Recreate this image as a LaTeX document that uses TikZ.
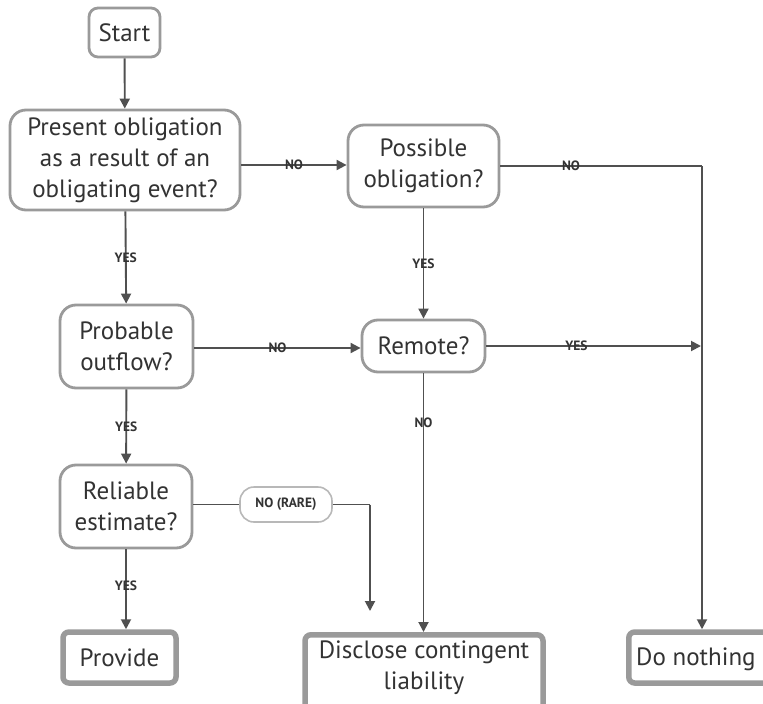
\documentclass[tikz,border=0pt]{standalone}
\usepackage{fontspec}
\setmainfont{PT Sans}
\usetikzlibrary{arrows.meta}
\definecolor{edgegray}{HTML}{505050}
\definecolor{boxgray}{HTML}{9A9A9A}
\definecolor{inkgray}{HTML}{333333}
\tikzset{
  boxfont/.style={font=\fontsize{25}{31}\selectfont},
  question/.style={draw=boxgray, line width=2.8pt, rounded corners=16pt, fill=white,
    text=inkgray, boxfont, align=center, inner sep=0pt},
  outcome/.style={draw=boxgray, line width=5.5pt, rounded corners=6pt, fill=white,
    text=inkgray, boxfont, align=center, inner sep=0pt},
  flow/.style={draw=edgegray, line width=1.9pt, -{Triangle[length=10pt,width=10pt]}},
  plain/.style={draw=edgegray, line width=1.9pt},
  answer/.style={text=inkgray, font=\bfseries\fontsize{13.5}{14}\selectfont, inner sep=0pt},
  rare/.style={draw=boxgray!70, line width=1.6pt, rounded corners=14pt, fill=white,
    text=inkgray, font=\bfseries\fontsize{13.5}{14}\selectfont, minimum width=92pt, minimum height=35pt, inner sep=0pt}
}
\begin{document}
\begin{tikzpicture}[x=1pt, y=-1pt]
\useasboundingbox (0,0) rectangle (763,704);

% questions
\node[question, minimum width=71pt, minimum height=49pt, rounded corners=9pt] (start) at (124.5,32.5) {Start};
\node[question, minimum width=230pt, minimum height=100pt] (present) at (125,160) {Present obligation\\as a result of an\\obligating event?};
\node[question, minimum width=151pt, minimum height=82pt] (possible) at (423.5,166) {Possible\\obligation?};
\node[question, minimum width=133pt, minimum height=83pt] (probable) at (126.5,346.5) {Probable\\outflow?};
\node[question, minimum width=123pt, minimum height=52pt] (remote) at (423.5,346) {Remote?};
\node[question, minimum width=132pt, minimum height=83pt] (reliable) at (126,506.5) {Reliable\\estimate?};

% outcomes
\node[outcome, minimum width=113pt, minimum height=51pt] (provide) at (119.5,657.5) {Provide};
\node[outcome, minimum width=238pt, minimum height=100pt, anchor=north] (disclose) at (424,632) {};
\node[text=inkgray, boxfont, align=center] (disclosetext) at (424,668) {Disclose contingent\\liability};
\node[outcome, minimum width=160pt, minimum height=51pt, anchor=west] (nothing) at (626,657.5) {};
\node[text=inkgray, boxfont, anchor=west, inner sep=0pt] (nothingtext) at (636,659) {Do nothing};

\node[rare] (norare) at (286,504.5) {NO (RARE)};

% junction points
\coordinate (rightrail) at (702,166);
\coordinate (railhit) at (701,346);
\coordinate (rarecorner) at (370,504.5);

% connectors
\draw[flow] (start) -- (present);
\draw[flow] (present.east |- 0,165) -- node[answer]{NO} (possible.west |- 0,165);
\draw[flow] (present) -- node[answer]{YES} (probable);
\draw[plain] (possible.east) -- node[answer, pos=0.35]{NO} (rightrail);
\draw[flow] (rightrail) -- (rightrail |- nothing.north);
\draw[flow] (possible) -- node[answer]{YES} (remote);
\draw[flow] (probable.east |- 0,348) -- node[answer]{NO} (remote.west |- 0,348);
\draw[flow] (remote.east) -- node[answer, pos=0.42]{YES} (railhit);
\draw[flow] (remote) -- node[answer, pos=0.19]{NO} (remote |- disclose.north);
\draw[flow] (probable) -- node[answer]{YES} (reliable);
\draw[plain] (reliable.east |- norare) -- (norare.west);
\draw[plain] (norare.east) -- (rarecorner);
\draw[flow] (rarecorner) -- (rarecorner |- 0,611);
\draw[flow] (reliable.south) -- node[answer, pos=0.45]{YES} (reliable.south |- provide.north);
\end{tikzpicture}
\end{document}
